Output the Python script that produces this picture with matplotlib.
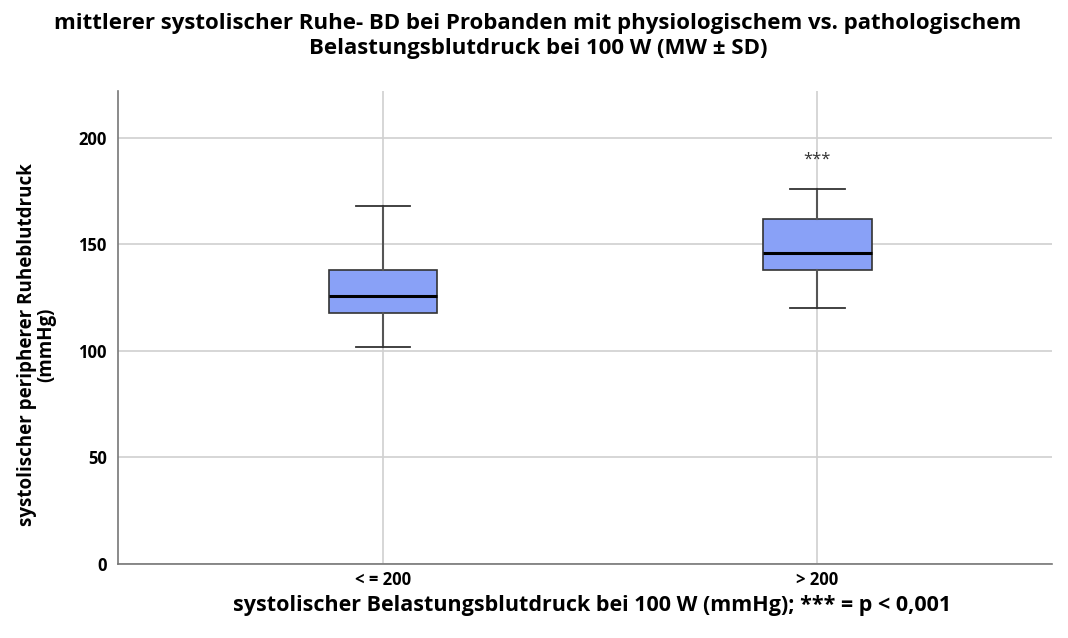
import matplotlib
matplotlib.use("Agg")
import matplotlib.pyplot as plt

categories = ["< = 200", "> 200"]
whisker_low = [102, 120]
q1 = [118, 138]
median = [126, 146]
q3 = [138, 162]
whisker_high = [168, 176]
significance = ["", "***"]

plt.rcParams['font.family'] = ['Open Sans', 'DejaVu Sans']

fig = plt.figure(figsize=(10.68, 6.38), dpi=100)
ax = fig.add_axes([118/1068, 1 - 564/638, (1052-118)/1068, (564-91)/638])

stats = []
for i, c in enumerate(categories):
    stats.append(dict(label=c, whislo=whisker_low[i], q1=q1[i], med=median[i],
                      q3=q3[i], whishi=whisker_high[i], fliers=[]))
positions = list(range(1, len(categories) + 1))
ax.bxp(stats, positions=positions, widths=0.25, patch_artist=True, showfliers=False,
       boxprops=dict(facecolor='#89A1F7', edgecolor='#333333', linewidth=1.2),
       medianprops=dict(color='black', linewidth=2.2),
       whiskerprops=dict(color='#555555', linewidth=1.5),
       capprops=dict(color='#333333', linewidth=1.3),
       capwidths=0.125, zorder=3)

for p, s, hi in zip(positions, significance, whisker_high):
    if s:
        ax.text(p, hi + 14, s, ha='center', va='center', fontsize=12, color='#333333')

ax.set_ylim(0, 222)
ax.set_xlim(0.39, 2.54)
ax.set_yticks([0, 50, 100, 150, 200])
ax.set_xticks(positions)
ax.set_xticklabels(categories)
ax.grid(True, color='#d0d0d0', linewidth=1.2, zorder=0)
ax.set_axisbelow(True)
for sp in ['top', 'right']:
    ax.spines[sp].set_visible(False)
for sp in ['left', 'bottom']:
    ax.spines[sp].set_color('#777777')
    ax.spines[sp].set_linewidth(1.2)
ax.tick_params(axis='y', length=0, labelsize=12, pad=8)
ax.tick_params(axis='x', length=0, labelsize=12, pad=5)
for lab in ax.get_xticklabels() + ax.get_yticklabels():
    lab.set_fontweight('bold')

ax.set_xlabel("systolischer Belastungsblutdruck bei 100 W (mmHg); *** = p < 0,001",
              fontsize=15.5, fontweight='bold', ha='center', va='center')
ax.xaxis.set_label_coords(0.508, -0.088)
ax.set_ylabel("systolischer peripherer Ruheblutdruck\n(mmHg)", fontsize=13.5,
              fontweight='bold', linespacing=1.0, ha='center', va='center')
ax.yaxis.set_label_coords(-0.087, 0.463)
fig.text(538/1068, 1 - 36/638,
         "mittlerer systolischer Ruhe- BD bei Probanden mit physiologischem vs. pathologischem\nBelastungsblutdruck bei 100 W (MW ± SD)",
         ha='center', va='center', fontsize=16, fontweight='bold', linespacing=1.3)

fig.savefig("out.png", dpi=100)
